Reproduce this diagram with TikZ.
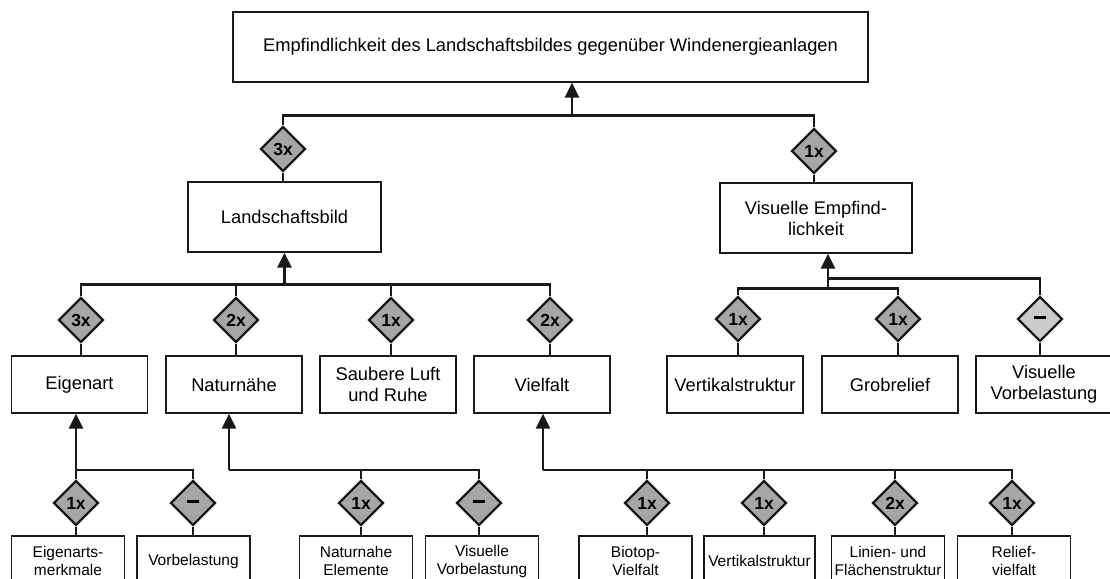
\documentclass[tikz,border=0pt]{standalone}
\usepackage{fontspec}
\setmainfont{Liberation Sans}
\usetikzlibrary{shapes.geometric,arrows.meta}
\newcommand{\nullw}{\rule[0.35ex]{12pt}{3.6pt}}
\begin{document}
\begin{tikzpicture}[x=1pt,y=-1pt]
\tikzset{ >={Triangle[width=14pt,length=15pt]},
  box/.style={draw=black!90, line width=1.4pt, fill=white, align=center, inner sep=0pt,
    font=\fontsize{18.3}{21}\selectfont},
  midbox/.style={box, minimum width=136pt, minimum height=57pt},
  leaf/.style={box, minimum width=113pt, minimum height=50pt, font=\fontsize{15.5}{18}\selectfont},
  weight/.style={diamond, draw=black!90, line width=2.4pt, fill=gray!70, inner sep=0pt,
    minimum size=45pt, font=\bfseries\fontsize{17.5}{18}\selectfont},
  link/.style={line width=2.6pt, draw=black!90},
}
\useasboundingbox (0,0) rectangle (1110,578);
\clip (0,0) rectangle (1110,578);

% top level
\node [box, minimum width=635pt, minimum height=70pt] (top) at (550.5,47)
  {Empfindlichkeit des Landschaftsbildes gegenüber Windenergieanlagen};
\node [weight] (wLand) at (283,149) {3x};
\node [weight] (wVis)  at (814,151) {1x};
\node [box, minimum width=193pt, minimum height=70pt] (land) at (284.5,217) {Landschaftsbild};
\node [box, minimum width=192pt, minimum height=70pt] (vis)  at (816,218) {Visuelle Empfind-\\lichkeit};

% second level
\node [midbox] (eig)  at (79.5,384.5) {Eigenart};
\node [midbox] (nat)  at (234,384.5)  {Naturnähe};
\node [midbox] (luft) at (388,384.5)  {Saubere Luft\\und Ruhe};
\node [midbox] (viel) at (542,384.5)  {Vielfalt};
\node [midbox] (vert) at (735,384.5)  {Vertikalstruktur};
\node [midbox] (grob) at (890,384.5)  {Grobrelief};
\node [midbox] (vvor) at (1044,384.5) {Visuelle\\Vorbelastung};

\node [weight] (wEig)  at (81,320)  {3x};
\node [weight] (wNat)  at (236,320) {2x};
\node [weight] (wLuft) at (391,320) {1x};
\node [weight] (wViel) at (550,320) {2x};
\node [weight] (wVert) at (738,319) {1x};
\node [weight] (wGrob) at (898,319) {1x};
\node [weight, fill=gray!40] (wVvor) at (1040,319) {\nullw};

% third level
\node [leaf] (eigM) at (68,561)    {Eigenarts-\\merkmale};
\node [leaf] (eigV) at (193.5,561) {Vorbelastung};
\node [leaf] (natE) at (356,561)   {Naturnahe\\Elemente};
\node [leaf] (natV) at (482,561)   {Visuelle\\Vorbelastung};
\node [leaf] (vBio) at (635.5,561) {Biotop-\\Vielfalt};
\node [leaf, minimum width=111pt] (vVer) at (759.5,561) {Vertikalstruktur};
\node [leaf] (vLin) at (888,561)   {Linien- und\\Flächenstruktur};
\node [leaf] (vRel) at (1014,561)  {Relief-\\vielfalt};

\node [weight] (wEm) at (76,503)   {1x};
\node [weight] (wEv) at (193,503)  {\nullw};
\node [weight] (wNe) at (361,503)  {1x};
\node [weight] (wNv) at (479,503)  {\nullw};
\node [weight] (wVb) at (647,503)  {1x};
\node [weight] (wVv) at (764,503)  {1x};
\node [weight] (wVl) at (895,503)  {2x};
\node [weight] (wVr) at (1012,503) {1x};

% weights down to their boxes
\foreach \w/\b in {wLand/land, wVis/vis, wEig/eig, wNat/nat, wLuft/luft, wViel/viel,
    wVert/vert, wGrob/grob, wVvor/vvor, wEm/eigM, wEv/eigV, wNe/natE, wNv/natV,
    wVb/vBio, wVv/vVer, wVl/vLin, wVr/vRel}
  \draw [link] (\w.south) -- (\w.south |- \b.north);

% bars and arrows
\coordinate (jT) at (572,117);
\draw [link] (wLand.north) -- ++(0,-10) -| (wVis.north);
\draw [link, ->] (jT) -- (jT |- top.south);

\coordinate (jL) at (284.5,285);
\draw [link] (wEig.north) -- ++(0,-12) -| (wViel.north);
\draw [link] (wNat.north) -- (wNat.north |- jL);
\draw [link] (wLuft.north) -- (wLuft.north |- jL);
\draw [link, ->] (jL) -- (jL |- land.south);

\coordinate (jR) at (828,289);
\draw [link] (wVert.north) -- ++(0,-7) -| (wGrob.north);
\draw [link] (wVvor.north) -- ++(0,-17) -| (jR);
\draw [link, ->] (jR) -- (jR |- vis.south);

\coordinate (jE) at (76,470);
\draw [link] (wEv.north) |- (jE);
\draw [link, ->] (wEm.north) -- (wEm.north |- eig.south);

\coordinate (jN) at (229,470);
\draw [link] (wNv.north) |- (jN);
\draw [link] (wNe.north) -- (wNe.north |- jN);
\draw [link, ->] (jN) -- (jN |- nat.south);

\coordinate (jV) at (543,470);
\draw [link] (wVr.north) |- (jV);
\foreach \w in {wVb, wVv, wVl}
  \draw [link] (\w.north) -- (\w.north |- jV);
\draw [link, ->] (jV) -- (jV |- viel.south);
\end{tikzpicture}
\end{document}
